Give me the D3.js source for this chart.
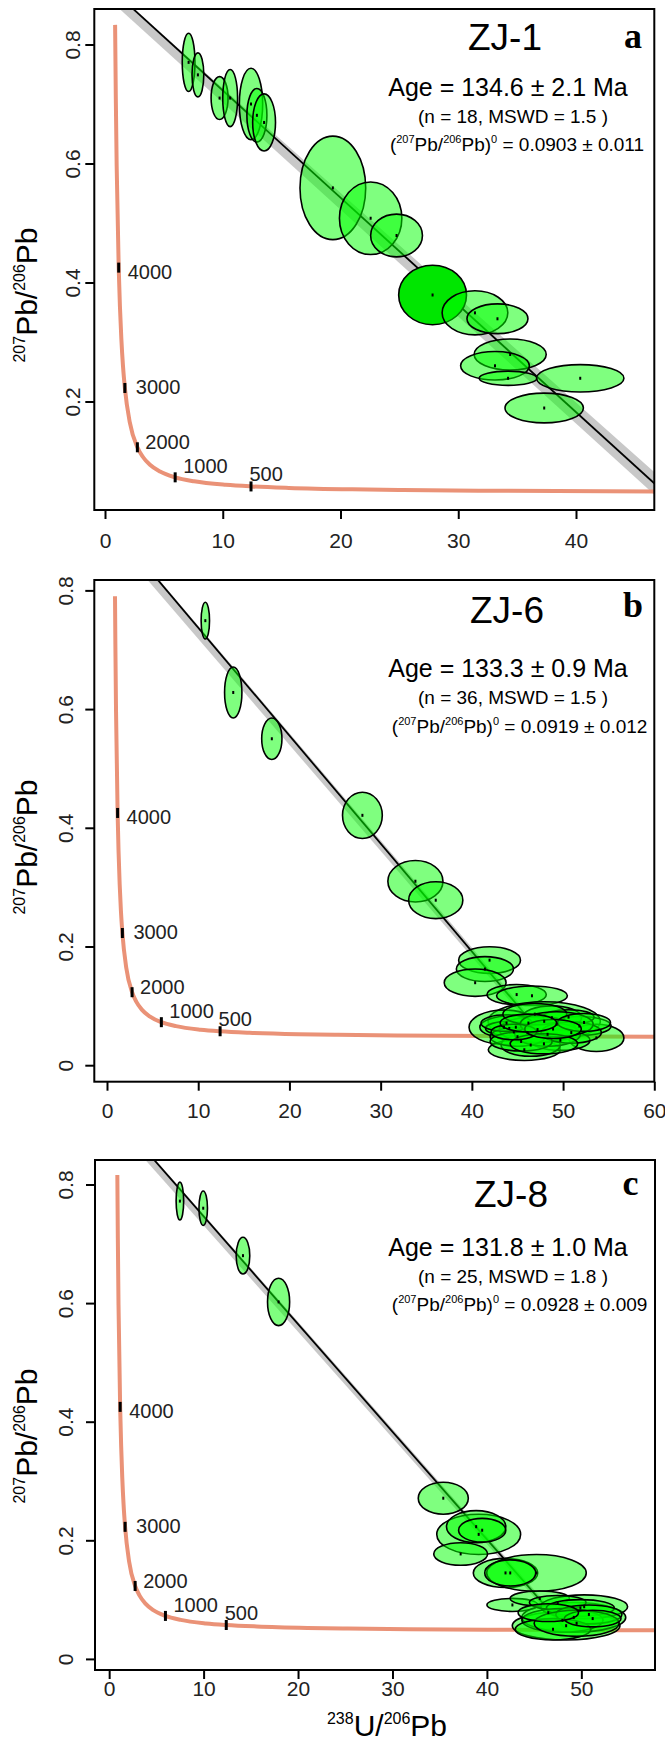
<!DOCTYPE html>
<html>
<head>
<meta charset="utf-8">
<script src="https://cdn.jsdelivr.net/npm/d3@7"></script>
<style>
body { margin: 0; background: #fff; }
text { font-family: "Liberation Sans", Arial, sans-serif; }
</style>
</head>
<body>
<svg id="chart" width="665" height="1743"></svg>
<script>
// concordia curve (238U/206Pb , 207Pb/206Pb), old -> young
var concX = [0.918, 0.990, 1.163, 1.267, 1.387, 1.525, 1.687, 2.111, 2.749, 3.206, 3.817, 4.673, 5.959, 7.568, 10.25, 12.40, 15.62, 20.99, 25.29, 31.73, 42.48, 53.22, 63.97];
var concY = [0.7095, 0.5967, 0.4250, 0.3600, 0.3058, 0.2605, 0.2227, 0.1643, 0.1230, 0.1071, 0.0936, 0.0822, 0.0725, 0.0658, 0.0599, 0.0572, 0.0547, 0.0523, 0.0512, 0.0501, 0.0491, 0.0484, 0.0480];
// top end of the curve in each panel
var concTopA = [0.858, 0.833];
var concTopB = [0.878, 0.790];
var concTopC = [0.866, 0.816];

// age marks on the concordia (Ma)
var ageMarks = [4000, 3000, 2000, 1000, 500];
var ageMarkX = [1.163, 1.687, 2.749, 5.959, 12.40];
var ageMarkY = [0.4250, 0.2227, 0.1230, 0.0725, 0.0572];

// panel a  ZJ-1
var aX  = [7.10, 7.89, 9.73, 10.63, 12.40, 12.90, 13.51, 19.35, 22.56, 24.76, 27.82, 31.42, 33.33, 34.41, 33.12, 34.23, 40.36, 37.30];
var aY  = [0.770, 0.749, 0.710, 0.710, 0.700, 0.681, 0.669, 0.559, 0.508, 0.479, 0.379, 0.349, 0.339, 0.279, 0.260, 0.239, 0.239, 0.189];
var aSx = [0.54, 0.50, 0.72, 0.63, 0.99, 0.85, 0.97, 2.79, 2.65, 2.20, 2.88, 2.79, 2.59, 3.06, 2.92, 2.45, 3.71, 3.33];
var aSy = [0.049, 0.037, 0.036, 0.048, 0.060, 0.045, 0.048, 0.087, 0.061, 0.036, 0.050, 0.037, 0.025, 0.026, 0.024, 0.012, 0.023, 0.025];
var aLine = [[0, 0.903], [47.4, 0.0488]];
var aBand = [[0, 0.903, 0.882], [47.4, 0.068, 0.030]];

// panel b  ZJ-6
var bX  = [10.78, 13.84, 18.07, 28.00, 33.81, 36.04, 41.94, 41.43, 40.36, 44.91, 46.59,
           47.93, 43.52, 46.12, 53.65, 45.75, 51.79, 44.82, 48.77, 49.70, 46.45, 50.60, 44.10, 47.20,
           45.00, 48.30, 50.90, 43.80, 46.90, 49.30, 45.40, 47.90, 52.30, 44.60, 48.90, 46.20];
var bY  = [0.749, 0.628, 0.550, 0.421, 0.310, 0.278, 0.177, 0.162, 0.139, 0.119, 0.117,
           0.074, 0.064, 0.055, 0.046, 0.026, 0.066, 0.064, 0.080, 0.042, 0.034, 0.081, 0.062, 0.060,
           0.048, 0.052, 0.055, 0.071, 0.086, 0.069, 0.040, 0.036, 0.072, 0.056, 0.061, 0.071];
var bSx = [0.46, 0.95, 1.11, 2.18, 3.02, 2.97, 3.39, 3.13, 3.39, 3.25, 3.88,
           6.15, 3.83, 3.83, 3.02, 3.95, 3.48, 3.95, 3.25, 3.25, 3.25, 2.80, 2.60, 4.20,
           3.00, 3.60, 3.30, 2.80, 3.50, 4.00, 3.40, 3.70, 2.90, 2.50, 3.10, 3.10];
var bSy = [0.031, 0.043, 0.035, 0.039, 0.035, 0.031, 0.0225, 0.021, 0.023, 0.017, 0.0165,
           0.033, 0.029, 0.017, 0.023, 0.018, 0.016, 0.020, 0.020, 0.017, 0.019, 0.0125, 0.012, 0.022,
           0.016, 0.020, 0.018, 0.014, 0.018, 0.021, 0.016, 0.017, 0.015, 0.013, 0.016, 0.015];
var bLine = [[0, 0.919], [47.86, 0.0488]];
var bBand = [[0, 0.921, 0.897], [47.86, 0.056, 0.042]];

// panel c  ZJ-8
var cX  = [7.49, 9.96, 14.17, 17.94, 35.38, 39.13, 38.86, 39.50, 37.22, 41.97, 45.25, 42.47, 42.70, 45.60,
           48.39, 49.20, 50.30, 47.50, 49.90, 48.00, 50.80, 47.00, 49.50, 51.20, 46.50];
var cY  = [0.772, 0.760, 0.680, 0.602, 0.271, 0.210, 0.223, 0.217, 0.177, 0.145, 0.145, 0.145, 0.091, 0.102,
           0.056, 0.070, 0.088, 0.095, 0.086, 0.065, 0.075, 0.050, 0.060, 0.068, 0.078];
var cSx = [0.40, 0.45, 0.72, 1.17, 2.65, 4.44, 3.14, 2.50, 2.85, 3.41, 5.27, 2.70, 2.70, 3.14,
           5.70, 5.50, 4.60, 3.00, 3.60, 4.30, 3.50, 4.00, 4.50, 3.00, 3.20];
var cSy = [0.032, 0.029, 0.031, 0.040, 0.027, 0.034, 0.027, 0.020, 0.019, 0.0245, 0.031, 0.022, 0.011, 0.0126,
           0.024, 0.025, 0.020, 0.012, 0.014, 0.020, 0.016, 0.018, 0.022, 0.014, 0.015];
var cLine = [[0, 0.928], [48.41, 0.0488]];
var cBand = [[0, 0.930, 0.910], [48.41, 0.055, 0.043]];

// text
var sampleNames = ["ZJ-1", "ZJ-6", "ZJ-8"];
var panelLetters = ["a", "b", "c"];
var ageText = ["134.6 \u00b1 2.1", "133.3 \u00b1 0.9", "131.8 \u00b1 1.0"];
var nText = ["18", "36", "25"];
var mswdText = ["1.5", "1.5", "1.8"];
var interceptText = ["0.0903 \u00b1 0.011", "0.0919 \u00b1 0.012", "0.0928 \u00b1 0.009"];

var aXTicks = [0, 10, 20, 30, 40];
var bXTicks = [0, 10, 20, 30, 40, 50, 60];
var cXTicks = [0, 10, 20, 30, 40, 50];
var aYTicks = [0.2, 0.4, 0.6, 0.8];
var bYTicks = [0, 0.2, 0.4, 0.6, 0.8];
var cYTicks = [0, 0.2, 0.4, 0.6, 0.8];

var svg = d3.select("#chart");

var ellipseFill = "#00ff00";
var concColor = "#ea9277";
// label offsets (px) for the age marks
var ageLabelOff = [[9, 11], [11, 6], [8, 2], [8, -4], [-1.5, -5]];

var panels = [
  { id: "a", box: [94.3, 9, 654.3, 510], xdom: [-0.909, 46.65], ydom: [0.0176, 0.8597],
    xt: aXTicks, yt: aYTicks, ex: aX, ey: aY, sx: aSx, sy: aSy, line: aLine, band: aBand, top: concTopA,
    hi: [10], ylabX: 80, xlabY: 548, ytitleY: 295,
    txt: { title: [505, 50], letter: [633, 48], age: [508, 95.5], n: [513, 123], ratio: [517, 151] } },
  { id: "b", box: [94.3, 580, 654.3, 1081.7], xdom: [-1.392, 60], ydom: [-0.0278, 0.8175],
    xt: bXTicks, yt: bYTicks, ex: bX, ey: bY, sx: bSx, sy: bSy, line: bLine, band: bBand, top: concTopB,
    hi: [], ylabX: 73, xlabY: 1118, ytitleY: 847,
    txt: { title: [507, 623], letter: [633, 617], age: [508, 677], n: [513, 704], ratio: [519.6, 732.6] } },
  { id: "c", box: [95, 1160, 655, 1670], xdom: [-1.5, 57.8], ydom: [-0.0187, 0.8413],
    xt: cXTicks, yt: cYTicks, ex: cX, ey: cY, sx: cSx, sy: cSy, line: cLine, band: cBand, top: concTopC,
    hi: [], ylabX: 73, xlabY: 1696, ytitleY: 1436,
    txt: { title: [511, 1206.5], letter: [630.5, 1195], age: [508, 1255.5], n: [513, 1282.7], ratio: [519.6, 1310.6] } }
];

// text with superscripts: parts = [[string, isSup], ...]
function supText(sel, parts, size, supSize, shift) {
  var raised = false;
  sel.attr("font-size", size);
  parts.forEach(function(p) {
    var t = sel.append("tspan").text(p[0]);
    if (p[1]) {
      t.attr("font-size", supSize);
      if (!raised) t.attr("dy", -shift);
      raised = true;
    } else {
      t.attr("font-size", size);
      if (raised) t.attr("dy", shift);
      raised = false;
    }
  });
}

panels.forEach(function(p, k) {
  var x = d3.scaleLinear().domain(p.xdom).range([p.box[0], p.box[2]]);
  var y = d3.scaleLinear().domain(p.ydom).range([p.box[3], p.box[1]]);
  var g = svg.append("g");

  svg.append("clipPath").attr("id", "clip" + p.id)
    .append("rect")
    .attr("x", p.box[0]).attr("y", p.box[1])
    .attr("width", p.box[2] - p.box[0]).attr("height", p.box[3] - p.box[1]);
  var inner = g.append("g").attr("clip-path", "url(#clip" + p.id + ")");

  // confidence band + regression line
  inner.append("path").datum(p.band)
    .attr("d", d3.area().x(d => x(d[0])).y0(d => y(d[2])).y1(d => y(d[1])))
    .attr("fill", "#c8c8c8");
  inner.append("path").datum(p.line)
    .attr("d", d3.line().x(d => x(d[0])).y(d => y(d[1])))
    .attr("stroke", "#000").attr("stroke-width", 1.8).attr("fill", "none");

  // concordia
  var pts = [p.top].concat(d3.zip(concX, concY));
  inner.append("path").datum(pts)
    .attr("d", d3.line().x(d => x(d[0])).y(d => y(d[1])).curve(d3.curveMonotoneX))
    .attr("stroke", concColor).attr("stroke-width", 4).attr("fill", "none");

  // error ellipses
  var idx = d3.range(p.ex.length);
  inner.selectAll("ellipse.e").data(idx).join("ellipse")
    .attr("cx", i => x(p.ex[i]))
    .attr("cy", i => y(p.ey[i]))
    .attr("rx", i => x(p.ex[i] + p.sx[i]) - x(p.ex[i]))
    .attr("ry", i => y(p.ey[i]) - y(p.ey[i] + p.sy[i]))
    .attr("fill", i => p.hi.indexOf(i) >= 0 ? "#00e600" : ellipseFill)
    .attr("fill-opacity", i => p.hi.indexOf(i) >= 0 ? 1 : 0.5)
    .attr("stroke", "#000").attr("stroke-width", 1.6);
  inner.selectAll("rect.dot").data(idx).join("rect")
    .attr("x", i => x(p.ex[i]) - 1).attr("y", i => y(p.ey[i]) - 1.5)
    .attr("width", 2).attr("height", 3).attr("fill", "#000");

  // age marks
  ageMarks.forEach(function(a, j) {
    g.append("rect")
      .attr("x", x(ageMarkX[j]) - 1.5).attr("y", y(ageMarkY[j]) - 5)
      .attr("width", 3).attr("height", 10).attr("fill", "#000");
    g.append("text")
      .attr("x", x(ageMarkX[j]) + ageLabelOff[j][0])
      .attr("y", y(ageMarkY[j]) + ageLabelOff[j][1])
      .attr("font-size", 20).attr("fill", "#222")
      .text(a);
  });

  // box
  g.append("rect")
    .attr("x", p.box[0]).attr("y", p.box[1])
    .attr("width", p.box[2] - p.box[0]).attr("height", p.box[3] - p.box[1])
    .attr("fill", "none").attr("stroke", "#000").attr("stroke-width", 2);

  // axes
  var xAxis = g.append("g").attr("transform", "translate(0," + p.box[3] + ")")
    .call(d3.axisBottom(x).tickValues(p.xt).tickSize(9).tickFormat(d3.format("d")));
  xAxis.select(".domain").remove();
  xAxis.selectAll("line").attr("stroke-width", 2);
  xAxis.selectAll("text").attr("y", p.xlabY - p.box[3]).attr("dy", null)
    .attr("font-size", 21).attr("fill", "#222").attr("font-family", "Liberation Sans, Arial, sans-serif");

  var yAxis = g.append("g").attr("transform", "translate(" + p.box[0] + ",0)")
    .call(d3.axisLeft(y).tickValues(p.yt).tickSize(9).tickFormat(d => d === 0 ? "0" : d3.format(".1f")(d)));
  yAxis.select(".domain").remove();
  yAxis.selectAll("line").attr("stroke-width", 2);
  yAxis.selectAll("text")
    .attr("x", null).attr("dy", null)
    .attr("transform", "translate(" + (p.ylabX - p.box[0]) + ",0) rotate(-90)")
    .attr("text-anchor", "middle")
    .attr("font-size", 21).attr("fill", "#222").attr("font-family", "Liberation Sans, Arial, sans-serif");

  // y title
  var yt = g.append("text")
    .attr("transform", "translate(36.5," + p.ytitleY + ") rotate(-90)")
    .attr("text-anchor", "middle").attr("fill", "#000");
  supText(yt, [["207", 1], ["Pb/", 0], ["206", 1], ["Pb", 0]], 30, 16, 12);

  // annotations
  var t = p.txt;
  g.append("text").attr("x", t.title[0]).attr("y", t.title[1])
    .attr("text-anchor", "middle").attr("font-size", 37).text(sampleNames[k]);
  g.append("text").attr("x", t.letter[0]).attr("y", t.letter[1])
    .attr("text-anchor", "middle").attr("font-size", 36).attr("font-weight", "bold")
    .style("font-family", "'Liberation Serif', 'Times New Roman', serif")
    .text(panelLetters[k]);
  g.append("text").attr("x", t.age[0]).attr("y", t.age[1])
    .attr("text-anchor", "middle").attr("font-size", 25)
    .text("Age = " + ageText[k] + " Ma");
  g.append("text").attr("x", t.n[0]).attr("y", t.n[1])
    .attr("text-anchor", "middle").attr("font-size", 19)
    .text("(n = " + nText[k] + ", MSWD = " + mswdText[k] + " )");
  var rt = g.append("text").attr("x", t.ratio[0]).attr("y", t.ratio[1])
    .attr("text-anchor", "middle");
  supText(rt, [["(", 0], ["207", 1], ["Pb/", 0], ["206", 1], ["Pb)", 0], ["0", 1], [" = " + interceptText[k], 0]], 19, 11, 8);
});

// x title
var xt = svg.append("text").attr("x", 387).attr("y", 1736).attr("text-anchor", "middle");
supText(xt, [["238", 1], ["U/", 0], ["206", 1], ["Pb", 0]], 30, 16, 12);
</script>
</body>
</html>
